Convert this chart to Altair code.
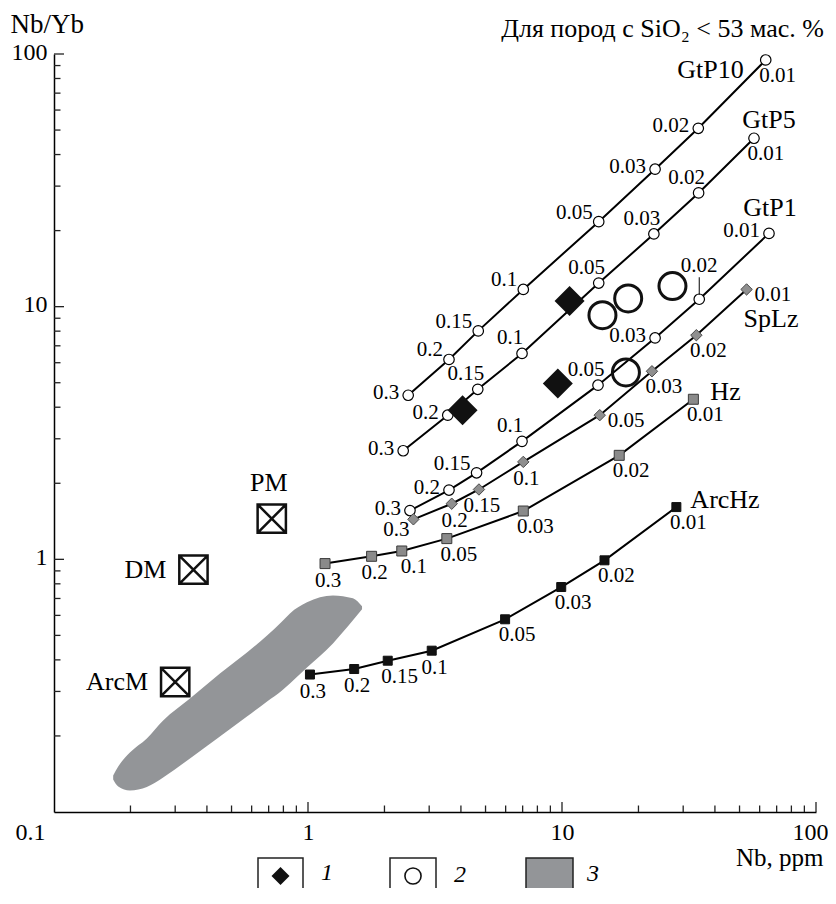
import altair as alt
import pandas as pd

FONT = "Liberation Serif"

# ---------------- data ----------------
fractions8 = ["0.3", "0.2", "0.15", "0.1", "0.05", "0.03", "0.02", "0.01"]
fractions7 = ["0.3", "0.2", "0.1", "0.05", "0.03", "0.02", "0.01"]

gtp10_nb = [2.48, 3.59, 4.68, 7.04, 13.95, 23.25, 34.4, 63.4]
gtp10_r = [4.46, 6.18, 8.02, 11.7, 21.7, 35.0, 50.8, 94.7]
gtp10_pos = ["left", "upleft", "upleft", "upleft", "upleft", "left", "left", "below"]

gtp5_nb = [2.37, 3.55, 4.66, 6.96, 13.95, 23.0, 34.5, 57.0]
gtp5_r = [2.69, 3.72, 4.71, 6.53, 12.4, 19.4, 28.2, 46.4]
gtp5_pos = ["left", "left", "up", "up", "up", "up", "up", "below"]

gtp1_nb = [2.52, 3.59, 4.61, 6.96, 13.86, 23.25, 34.7, 65.3]
gtp1_r = [1.56, 1.88, 2.20, 2.93, 4.89, 7.52, 10.7, 19.5]
gtp1_pos = ["left", "left", "upleft", "up", "up", "left", "wayup", "left"]

splz_nb = [2.60, 3.68, 4.71, 7.04, 14.08, 22.6, 33.8, 53.3]
splz_r = [1.44, 1.66, 1.89, 2.43, 3.72, 5.55, 7.71, 11.7]
splz_pos = ["belowleft", "below0", "below0", "below0", "right", "below", "below", "right"]

hz_nb = [1.167, 1.78, 2.34, 3.52, 7.04, 16.8, 32.9]
hz_r = [0.962, 1.028, 1.079, 1.208, 1.553, 2.58, 4.30]
hz_pos = ["below0", "below0", "below", "below", "below", "below", "below"]

archz_nb = [1.018, 1.52, 2.06, 3.07, 5.97, 9.93, 14.7, 28.2]
archz_r = [0.350, 0.368, 0.397, 0.435, 0.579, 0.777, 0.991, 1.61]
archz_pos = ["below0", "below0", "below", "below0", "below", "below", "below", "below"]

group1_nb = [10.71, 9.63, 4.06]
group1_r = [10.54, 4.96, 3.89]

group2_nb = [14.43, 18.22, 27.22, 17.85]
group2_r = [9.25, 10.78, 12.06, 5.49]

res_names = ["PM", "DM", "ArcM"]
res_nb = [0.72, 0.354, 0.30]
res_r = [1.449, 0.91, 0.327]
res_pos = ["above", "left", "left"]

blob_nb = [0.171, 0.179, 0.199, 0.232, 0.269, 0.343, 0.450, 0.575, 0.690, 0.790, 0.849, 0.991, 1.254, 1.503, 1.632]
blob_lo = [0.1345, 0.1262, 0.1217, 0.1256, 0.137, 0.1629, 0.1991, 0.2388, 0.274, 0.3029, 0.3228, 0.3735, 0.4649, 0.5734, 0.6338]
blob_hi = [0.1395, 0.1514, 0.172, 0.1955, 0.2304, 0.2815, 0.3536, 0.428, 0.500, 0.568, 0.611, 0.676, 0.720, 0.701, 0.6515]

minor_ticks = [0.2, 0.3, 0.4, 0.5, 0.6, 0.7, 0.8, 0.9, 2, 3, 4, 5, 6, 7, 8, 9,
               20, 30, 40, 50, 60, 70, 80, 90]
major_ticks = [1, 10, 100]
axis_labels_x = [0.1, 1, 10, 100]
axis_labels_y = [1, 10, 100]

title_text = "Для пород с SiO₂ < 53 мас. %"
legend_labels = ["1", "2", "3"]

# ---------------- tables ----------------
rows = []
for name, fr, nbs, rs, ps in [
    ("GtP10", fractions8, gtp10_nb, gtp10_r, gtp10_pos),
    ("GtP5", fractions8, gtp5_nb, gtp5_r, gtp5_pos),
    ("GtP1", fractions8, gtp1_nb, gtp1_r, gtp1_pos),
    ("SpLz", fractions8, splz_nb, splz_r, splz_pos),
    ("Hz", fractions7, hz_nb, hz_r, hz_pos),
    ("ArcHz", fractions8, archz_nb, archz_r, archz_pos),
]:
    for f, a, b, p in zip(fr, nbs, rs, ps):
        rows.append({"curve": name, "label": f, "nb": a, "r": b, "pos": p})
curves = pd.DataFrame(rows)

g1 = pd.DataFrame({"nb": group1_nb, "r": group1_r})
g2 = pd.DataFrame({"nb": group2_nb, "r": group2_r})
res = pd.DataFrame({"name": res_names, "nb": res_nb, "r": res_r, "pos": res_pos})
blob = pd.DataFrame({"nb": blob_nb, "r": blob_lo, "r2": blob_hi})

# ---------------- scales / axes ----------------
X_SCALE = alt.Scale(type="log", domain=[0.1, 100], nice=False)
Y_SCALE = alt.Scale(type="log", domain=[0.1, 100], nice=False)

x_axis = alt.Axis(
    values=axis_labels_x, format="~g", ticks=False, grid=False,
    domainColor="black", domainWidth=1.5,
    labelFont=FONT, labelFontSize=24, labelColor="black", labelFlush=False,
    labelPadding=20, labelBaseline="middle",
    labelOffset={"expr": "datum.value < 0.5 ? -24 : (datum.value > 50 ? -6 : 0)"},
    title="Nb, ppm", titleFont=FONT, titleFontSize=25, titleFontWeight="normal",
    titleColor="black", titleAlign="right", titleBaseline="alphabetic",
    titleX=769, titleY=53,
)
y_axis = alt.Axis(
    values=axis_labels_y, format="~g", ticks=False, grid=False,
    domainColor="black", domainWidth=1.5,
    labelFont=FONT, labelFontSize=24, labelColor="black", labelFlush=False,
    labelPadding=7, labelOffset=-2,
    title="Nb/Yb", titleFont=FONT, titleFontSize=27, titleFontWeight="normal",
    titleColor="black", titleAngle=0, titleAlign="left", titleBaseline="alphabetic",
    titleX=-44, titleY=-22,
)

X = alt.X("nb:Q", scale=X_SCALE, axis=x_axis)
Y = alt.Y("r:Q", scale=Y_SCALE, axis=y_axis)

layers = []

# grey field 3
layers.append(
    alt.Chart(blob).mark_area(color="#939598", interpolate="monotone", opacity=1)
    .encode(x=X, y=Y, y2="r2:Q")
)

# inward ticks
xt_minor = pd.DataFrame({"nb": minor_ticks})
xt_major = pd.DataFrame({"nb": major_ticks})
yt_minor = pd.DataFrame({"r": minor_ticks})
yt_major = pd.DataFrame({"r": major_ticks})
tick_style = dict(color="#222222", strokeWidth=1.3)
layers.append(alt.Chart(xt_minor).mark_rule(**tick_style).encode(x=X, y=alt.value(758), y2=alt.value(751.5)))
layers.append(alt.Chart(xt_major).mark_rule(**tick_style).encode(x=X, y=alt.value(758), y2=alt.value(748)))
layers.append(alt.Chart(yt_minor).mark_rule(**tick_style).encode(y=Y, x=alt.value(0), x2=alt.value(6.5)))
layers.append(alt.Chart(yt_major).mark_rule(**tick_style).encode(y=Y, x=alt.value(0), x2=alt.value(10)))

# model curves
layers.append(
    alt.Chart(curves).mark_line(color="black", strokeWidth=2)
    .encode(x=X, y=Y, detail="curve:N")
)

def sub(names):
    return alt.Chart(curves).transform_filter(
        alt.FieldOneOfPredicate(field="curve", oneOf=names)
    )

layers.append(sub(["GtP10", "GtP5", "GtP1"]).mark_point(
    shape="circle", size=110, filled=True, fill="white", stroke="black",
    strokeWidth=1.2, opacity=1).encode(x=X, y=Y))
layers.append(sub(["SpLz"]).mark_point(
    shape="diamond", size=130, filled=True, fill="#8f8f8f", stroke="#4a4a4a",
    strokeWidth=1, opacity=1).encode(x=X, y=Y))
layers.append(sub(["Hz"]).mark_point(
    shape="square", size=100, filled=True, fill="#8a8a8a", stroke="#3a3a3a",
    strokeWidth=1, opacity=1).encode(x=X, y=Y))
layers.append(sub(["ArcHz"]).mark_point(
    shape="square", size=81, filled=True, fill="#111111", stroke="#111111",
    strokeWidth=1, opacity=1).encode(x=X, y=Y))

# leader for GtP1 0.02
layers.append(
    sub(["GtP1"]).transform_filter(alt.datum.pos == "wayup")
    .mark_point(shape="M 0 -4.4 L 0 -0.9", size=100, filled=False,
                stroke="black", strokeWidth=1, opacity=1)
    .encode(x=X, y=Y)
)

# fraction labels
pos_style = {
    "left": dict(align="right", dx=-9, dy=-2),
    "upleft": dict(align="right", dx=-6, dy=-9),
    "up": dict(align="center", dx=-12, dy=-15),
    "below": dict(align="center", dx=12, dy=16),
    "below0": dict(align="center", dx=3, dy=17),
    "right": dict(align="left", dx=8, dy=6),
    "belowleft": dict(align="center", dx=-17, dy=11),
    "wayup": dict(align="center", dx=0, dy=-33),
}
for p, st in pos_style.items():
    layers.append(
        alt.Chart(curves).transform_filter(alt.datum.pos == p)
        .mark_text(font=FONT, fontSize=21, color="black", baseline="middle", **st)
        .encode(x=X, y=Y, text="label:N")
    )

# curve names, anchored at the 0.01 end point
name_style = {
    "GtP10": dict(align="right", dx=-22, dy=10),
    "GtP5": dict(align="center", dx=15, dy=-18),
    "GtP1": dict(align="center", dx=1, dy=-25),
    "SpLz": dict(align="left", dx=-3, dy=30),
    "Hz": dict(align="left", dx=17, dy=-7),
    "ArcHz": dict(align="left", dx=14, dy=-7),
}
for n, st in name_style.items():
    layers.append(
        alt.Chart(curves)
        .transform_filter((alt.datum.curve == n) & (alt.datum.label == "0.01"))
        .mark_text(font=FONT, fontSize=26, color="black", baseline="middle", **st)
        .encode(x=X, y=Y, text="curve:N")
    )

# samples
layers.append(alt.Chart(g1).mark_point(
    shape="diamond", size=900, filled=True, fill="#111111", strokeWidth=0,
    opacity=1).encode(x=X, y=Y))
layers.append(alt.Chart(g2).mark_point(
    shape="circle", size=729, filled=False, stroke="#111111", strokeWidth=3,
    opacity=1).encode(x=X, y=Y))

# mantle reservoirs
layers.append(alt.Chart(res).mark_point(
    shape="M -1 -1 L 1 -1 L 1 1 L -1 1 Z M -1 -1 L 1 1 M 1 -1 L -1 1",
    size=800, filled=False, stroke="#111111", strokeWidth=2.5, opacity=1
).encode(x=X, y=Y))
layers.append(
    alt.Chart(res).transform_filter(alt.datum.pos == "above")
    .mark_text(font=FONT, fontSize=26, color="black", baseline="middle",
               align="center", dx=-3, dy=-36)
    .encode(x=X, y=Y, text="name:N")
)
layers.append(
    alt.Chart(res).transform_filter(alt.datum.pos == "left")
    .mark_text(font=FONT, fontSize=26, color="black", baseline="middle",
               align="right", dx=-27, dy=0)
    .encode(x=X, y=Y, text="name:N")
)

# header text
layers.append(
    alt.Chart(pd.DataFrame({"t": [title_text]}))
    .mark_text(font=FONT, fontSize=26, color="black", align="right",
               baseline="alphabetic")
    .encode(x=alt.value(770), y=alt.value(-17), text="t:N")
)

# legend below the plot
one = pd.DataFrame({"t": legend_labels})
box_style = dict(stroke="#222222", strokeWidth=1.5)
layers.append(alt.Chart(one.head(1)).mark_rect(fill="white", **box_style)
              .encode(x=alt.value(204), x2=alt.value(249), y=alt.value(804), y2=alt.value(860)))
layers.append(alt.Chart(one.head(1)).mark_rect(fill="white", **box_style)
              .encode(x=alt.value(336), x2=alt.value(382), y=alt.value(804), y2=alt.value(860)))
layers.append(alt.Chart(one.head(1)).mark_rect(fill="#939598", **box_style)
              .encode(x=alt.value(472), x2=alt.value(519), y=alt.value(804), y2=alt.value(860)))
layers.append(alt.Chart(one.head(1)).mark_point(
    shape="diamond", size=324, filled=True, fill="#111111", strokeWidth=0, opacity=1)
    .encode(x=alt.value(226.5), y=alt.value(822)))
layers.append(alt.Chart(one.head(1)).mark_point(
    shape="circle", size=260, filled=False, stroke="#111111", strokeWidth=1.6, opacity=1)
    .encode(x=alt.value(359), y=alt.value(822)))
for lab, xpos, ypos in zip(legend_labels, [273, 406, 539], [819, 821, 820]):
    layers.append(
        alt.Chart(one[one.t == lab]).mark_text(
            font=FONT, fontSize=24, fontStyle="italic", color="black",
            baseline="middle", align="center")
        .encode(x=alt.value(xpos), y=alt.value(ypos), text="t:N")
    )

chart = (
    alt.layer(*layers)
    .properties(
        width=762, height=758,
        padding={"left": 46, "top": 46, "right": 12, "bottom": 76},
        autosize=alt.AutoSizeParams(type="none"),
    )
    .configure_view(stroke=None)
)

chart.save("out.html", embed_options={"renderer": "svg", "actions": False})
